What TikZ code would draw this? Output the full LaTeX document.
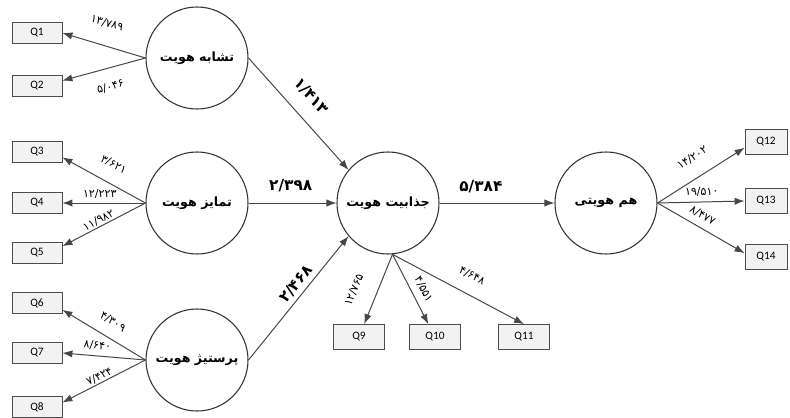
\documentclass[tikz,border=0pt]{standalone}
\usepackage{fontspec}
\usetikzlibrary{arrows.meta}
\TeXXeTstate=1
\newfontfamily\fa[Script=Arabic]{DejaVu Sans}
\newfontfamily\qf{Carlito}
\begin{document}
\begin{tikzpicture}[x=0.75pt,y=-0.75pt,
  lv/.style={circle,draw=black!80,line width=0.8pt,minimum size=76.5pt,inner sep=0pt,font=\fa\bfseries\fontsize{9.5}{11}\selectfont},
  ind/.style={draw=black!70,fill=black!5,line width=0.6pt,minimum width=37.5pt,minimum height=15.75pt,inner sep=0pt,font=\qf\fontsize{8.5}{9}\selectfont},
  indr/.style={ind,minimum width=31.5pt,minimum height=18.75pt},
  indb/.style={ind,minimum width=38.25pt,minimum height=18.75pt},
  con/.style={draw=black!72,line width=0.75pt,-{Latex[length=7.5pt,width=5.5pt]}},
  lab/.style={font=\fa\fontsize{8.3}{9}\selectfont,sloped,inner sep=1pt},
  big/.style={font=\fa\bfseries\fontsize{11.5}{13}\selectfont,sloped,inner sep=1pt}]
\useasboundingbox[fill=white] (0,0) rectangle (790,418);
% latent variables
\node[lv] (c1) at (197,58) {\beginR تشابه هویت\endR};
\node[lv] (c2) at (197,203) {\beginR تمایز هویت\endR};
\node[lv] (c3) at (197,360) {\beginR پرستیژ هویت\endR};
\node[lv] (cj) at (388,203) {\beginR جذابیت هویت\endR};
\node[lv] (ch) at (606,203) {\beginR هم هویتی\endR};
% indicators
\node[ind] (q1) at (37,33) {Q1};
\node[ind] (q2) at (37,86) {Q2};
\node[ind] (q3) at (37,152) {Q3};
\node[ind] (q4) at (37,203) {Q4};
\node[ind] (q5) at (37,253) {Q5};
\node[ind] (q6) at (37,303) {Q6};
\node[ind] (q7) at (37,353) {Q7};
\node[ind] (q8) at (37,407) {Q8};
\node[indb] (q9) at (359,337) {Q9};
\node[indb] (q10) at (435,337) {Q10};
\node[indb] (q11) at (524,337) {Q11};
\node[indr] (q12) at (766,142) {Q12};
\node[indr] (q13) at (766,201) {Q13};
\node[indr] (q14) at (766,257) {Q14};
% loadings
\draw[con] (c1.west) -- node[lab,above=12pt,pos=0.54]{۱۳/۷۸۹} (q1.east);
\draw[con] (c1.west) -- node[lab,below=9pt,pos=0.48]{۵/۰۴۶} (q2.12);
\draw[con] (c2.west) -- node[lab,above=9pt,pos=0.49]{۳/۶۲۱} (q3.-12);
\draw[con] (c2.west) -- node[lab,above=2pt,pos=0.55]{۱۲/۲۲۳} (q4.east);
\draw[con] (c2.west) -- node[lab,above=0pt,pos=0.53]{۱۱/۹۸۲} (q5.15);
\draw[con] (c3.west) -- node[lab,above=7pt,pos=0.49]{۴/۳۰۹} (q6.-15);
\draw[con] (c3.west) -- node[lab,above=3pt,pos=0.59]{۸/۶۴۰} (q7.east);
\draw[con] (c3.west) -- node[lab,above=0pt,pos=0.52]{۷/۴۲۴} (q8.10);
\draw[con] (cj.-85) -- node[lab,above=12pt,pos=0.63]{۱۲/۷۶۵} (q9);
\draw[con] (cj.-85) -- node[lab,above=4pt,pos=0.58]{۴/۵۵۱} (q10);
\draw[con] (cj.-85) -- node[lab,above=9pt,pos=0.54]{۴/۶۴۸} (q11.north);
\draw[con] (ch.east) -- node[lab,above=10pt,pos=0.52]{۱۴/۲۰۲} (q12.195);
\draw[con] (ch.east) -- node[lab,above=3pt,pos=0.51]{۱۹/۵۱۰} (q13.west);
\draw[con] (ch.east) -- node[lab,above=4pt,pos=0.45]{۸/۴۷۷} (q14.170);
% structural paths
\draw[con] (c1.east) -- node[big,above=10pt,pos=0.47]{۱/۴۱۳} (cj.140);
\draw[con] (c2.east) -- node[big,above=7pt,pos=0.48]{۲/۳۹۸} (cj.west);
\draw[con] (c3.east) -- node[big,above=2pt,pos=0.56]{۲/۴۶۸} (cj.220);
\draw[con] (cj.east) -- node[big,above=6pt,pos=0.36]{۵/۳۸۴} (ch.west);
\end{tikzpicture}
\end{document}
